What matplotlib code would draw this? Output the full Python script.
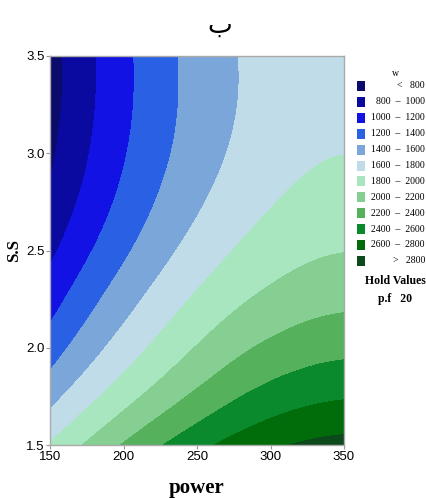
import numpy as np
import matplotlib
matplotlib.use("Agg")
import matplotlib.pyplot as plt
from matplotlib.colors import ListedColormap, BoundaryNorm
from matplotlib.patches import Rectangle

# Contour points: (power, s.s) lying on each w level
lvl_800 = [(159.0, 3.50), (158.0, 3.274), (154.6, 3.017), (150.0, 2.826)]
lvl_1000 = [(181.8, 3.50), (180.6, 3.274), (176.1, 3.017), (168.2, 2.760), (157.0, 2.52), (150.0, 2.40)]
lvl_1200 = [(206.7, 3.50), (206.7, 3.274), (202.2, 3.017), (193.1, 2.760), (180.6, 2.503), (159.0, 2.297), (150.0, 2.107)]
lvl_1400 = [(236.2, 3.50), (237.3, 3.274), (233.9, 3.017), (222.6, 2.760), (207.8, 2.503), (185.2, 2.297), (162.4, 2.040), (150.0, 1.875)]
lvl_1600 = [(275.9, 3.50), (278.1, 3.274), (272.4, 3.017), (257.7, 2.760), (237.3, 2.503), (214.6, 2.297), (192.0, 2.040), (162.4, 1.783), (150.0, 1.675)]
lvl_1800 = [(350.0, 3.032), (313.3, 2.811), (279.3, 2.554), (247.5, 2.297), (221.4, 2.040), (192.0, 1.783), (150.0, 1.516)]
lvl_2000 = [(350.0, 2.492), (299.7, 2.287), (282.7, 2.246), (253.2, 2.040), (223.7, 1.783), (171.8, 1.50)]
lvl_2200 = [(350.0, 2.184), (299.7, 2.050), (282.7, 1.999), (255.4, 1.783), (196.3, 1.50)]
lvl_2400 = [(350.0, 1.947), (299.7, 1.824), (282.7, 1.773), (222.8, 1.50)]
lvl_2600 = [(350.0, 1.731), (299.7, 1.639), (282.7, 1.577), (257.5, 1.50)]
lvl_2800 = [(350.0, 1.541), (313.3, 1.50)]
corner_estimate = [(350.0, 3.50, 1720.0)]
contour_points = {800: lvl_800, 1000: lvl_1000, 1200: lvl_1200, 1400: lvl_1400,
                  1600: lvl_1600, 1800: lvl_1800, 2000: lvl_2000, 2200: lvl_2200,
                  2400: lvl_2400, 2600: lvl_2600, 2800: lvl_2800}

levels = [800, 1000, 1200, 1400, 1600, 1800, 2000, 2200, 2400, 2600, 2800]
legend_labels = ["<   800", "800  \u2013  1000", "1000  \u2013  1200", "1200  \u2013  1400",
                 "1400  \u2013  1600", "1600  \u2013  1800", "1800  \u2013  2000",
                 "2000  \u2013  2200", "2200  \u2013  2400", "2400  \u2013  2600",
                 "2600  \u2013  2800", ">   2800"]
colors = ["#0b0b6b", "#0a0aa0", "#1212e4", "#2a60e4", "#7ba6d9", "#bfdce8",
          "#a8e6bf", "#84cf91", "#55b15c", "#0a8a2c", "#006c0a", "#0c4a1c"]
x_ticks = [150, 200, 250, 300, 350]
y_ticks = [1.5, 2.0, 2.5, 3.0, 3.5]

P, S, W = [], [], []
for lv, pts in contour_points.items():
    for p, s in pts:
        P.append(p); S.append(s); W.append(lv)
for p, s, v in corner_estimate:
    P.append(p); S.append(s); W.append(v)
P = np.array(P); S = np.array(S); W = np.array(W, float)

# cubic response surface + heavily smoothed thin-plate correction of residuals
def design(p, s):
    u = (p - 250) / 100.0
    v = (s - 2.5)
    return np.stack([np.ones_like(u), u, v, u * u, v * v, u * v,
                     u ** 3, v ** 3, u * u * v, u * v * v], axis=-1)
coef, *_ = np.linalg.lstsq(design(P, S), W, rcond=None)
resid = W - design(P, S) @ coef

def scaled(p, s):
    return np.column_stack([(p - 150) / 200 * 2.94, (s - 1.5) / 2 * 3.89])

def tps_kernel(a, b):
    r = np.sqrt(((a[:, None, :] - b[None, :, :]) ** 2).sum(-1))
    with np.errstate(divide="ignore", invalid="ignore"):
        k = r * r * np.log(r)
    return np.nan_to_num(k)

X = scaled(P, S)
n = len(W)
A = np.zeros((n + 3, n + 3))
A[:n, :n] = tps_kernel(X, X) + 2.0 * np.eye(n)
Pm = np.column_stack([np.ones(n), X])
A[:n, n:] = Pm
A[n:, :n] = Pm.T
sol = np.linalg.solve(A, np.concatenate([resid, np.zeros(3)]))

gp, gs = np.meshgrid(np.linspace(150, 350, 300), np.linspace(1.5, 3.5, 300))
G = scaled(gp.ravel(), gs.ravel())
corr = tps_kernel(G, X) @ sol[:n] + np.column_stack([np.ones(len(G)), G]) @ sol[n:]
gw = design(gp, gs) @ coef + corr.reshape(gp.shape)

fig = plt.figure(figsize=(4.27, 4.99), dpi=100)
ax = fig.add_axes([50 / 427, 1 - 445 / 499, 294 / 427, 389 / 499])
bounds = [-1e9] + levels + [1e9]
cmap = ListedColormap(colors)
norm = BoundaryNorm(bounds, cmap.N)
ax.contourf(gp, gs, gw, levels=bounds, cmap=cmap, norm=norm)
ax.set_xlim(150, 350)
ax.set_ylim(1.5, 3.5)
ax.set_xticks(x_ticks)
ax.set_yticks(y_ticks)
ax.set_xticklabels([str(v) for v in x_ticks])
ax.set_yticklabels([f"{v:.1f}" for v in y_ticks])
for lab in ax.get_xticklabels() + ax.get_yticklabels():
    lab.set_family("Liberation Sans")
    lab.set_fontsize(9.5)
ax.tick_params(direction="out", length=3, width=0.8, color="#999999", pad=1)
for sp in ax.spines.values():
    sp.set_color("#aaaaaa")
    sp.set_linewidth(1.0)

fig.text(197 / 427, 1 - 488 / 499, "power", family="Liberation Serif",
         fontweight="bold", fontsize=15, ha="center", va="center")
fig.text(14 / 427, 1 - 250 / 499, "S.S", family="Liberation Serif",
         fontweight="bold", fontsize=12, ha="center", va="center", rotation=90)
fig.text(220 / 427, 1 - 26 / 499, "\u0628", family=["DejaVu Sans"],
         fontsize=19, ha="center", va="center")

# legend
fig.text(395 / 427, 1 - 73 / 499, "w", family="Liberation Serif", fontsize=7,
         ha="center", va="center")
for i, (c, lab) in enumerate(zip(colors, legend_labels)):
    yc = 86 + i * 15.9
    fig.patches.append(Rectangle((357 / 427, 1 - (yc + 5) / 499), 8 / 427, 10 / 499,
                                 transform=fig.transFigure, facecolor=c, edgecolor="none"))
    fig.text(425 / 427, 1 - yc / 499, lab, family="Liberation Serif", fontsize=7,
             ha="right", va="center")
fig.text(395 / 427, 1 - 281 / 499, "Hold Values", family="Liberation Serif",
         fontweight="bold", fontsize=8.5, ha="center", va="center")
fig.text(395 / 427, 1 - 299 / 499, "p.f   20", family="Liberation Serif",
         fontweight="bold", fontsize=8.5, ha="center", va="center")

fig.savefig("out.png", dpi=100)
